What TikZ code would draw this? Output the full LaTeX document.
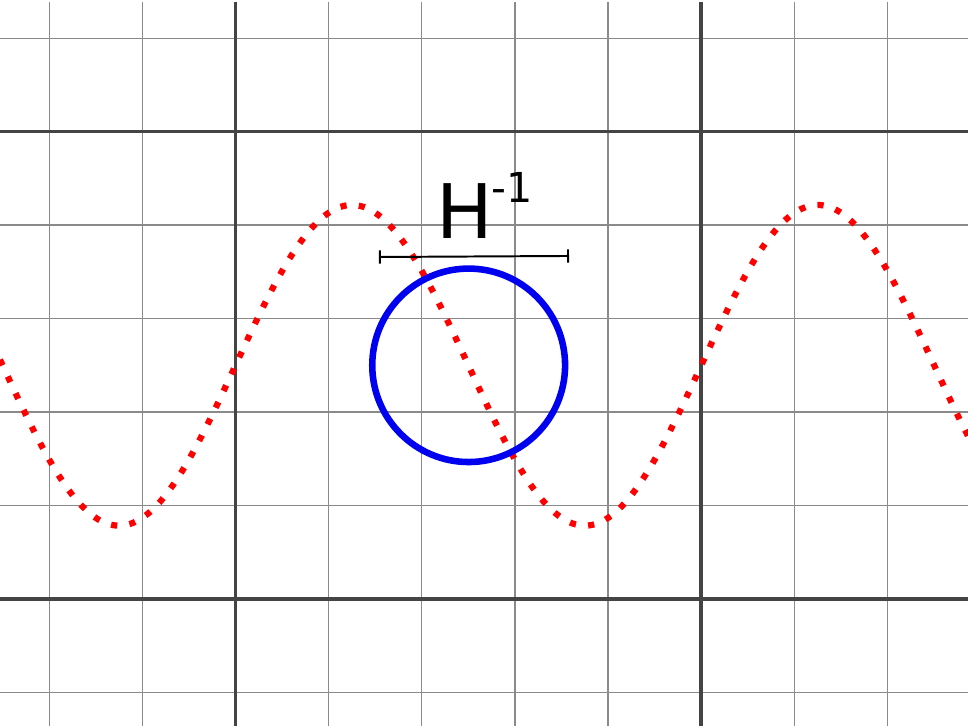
\documentclass[tikz,border=0pt]{standalone}
\usepackage{fontspec}
\setmainfont{DejaVu Sans}
\usepackage{tikz}
\usetikzlibrary{positioning,arrows.meta,calc}
\definecolor{ink}{HTML}{000000}
\definecolor{gridThin}{HTML}{8A8A8A}
\definecolor{gridThick}{HTML}{444444}
\definecolor{sRed}{HTML}{FF0000}
\definecolor{sBlue}{HTML}{0000F0}
\tikzset{
  minor/.style={draw=gridThin, line width=0.4pt},
  major/.style={draw=gridThick, line width=1.1pt},
  wave/.style={draw=sRed, line width=1.9pt, dash pattern=on 1.9pt off 3.75pt},
  ring/.style={draw=sBlue, line width=2pt},
  bar/.style={draw=ink, line width=0.6pt, {Bar[width=4pt]}-{Bar[width=4pt]}},
}

\begin{document}
\begin{tikzpicture}[x=1cm, y=1.0032cm,
  lbl/.style={inner sep=0pt, anchor=base west, text=ink, font=\fontsize{23}{28}\selectfont}]
\useasboundingbox (-2.528,-1.359) rectangle (7.863,6.409);
\foreach \i in {-2,-1,1,2,3,4,6,7} \draw[minor] (\i,-1.359) -- (\i,6.388);
\foreach \j in {-1,1,2,3,4,6} \draw[minor] (-2.528,\j) -- (7.863,\j);
\foreach \i in {0,5} \draw[major] (\i,-1.359) -- (\i,6.388);
\foreach \j in {0,5} \draw[major] (-2.528,\j) -- (7.863,\j);
\draw[wave] plot[domain=-2.528:7.863, samples=240, smooth] (\x, {2.5+1.716*sin(72*\x)});
\coordinate (ctr) at (2.503,2.5);
\draw[ring] (ctr) circle (1.035);
\coordinate (barL) at (1.540,3.659);
\coordinate (barR) at (3.580,3.670);
\draw[bar] (barL) -- (barR);
\node[lbl] (hinv) at (2.152,3.852) {H\kern-0.5pt\raisebox{11pt}{\fontsize{12.6}{15}\selectfont -1}};
\end{tikzpicture}
\end{document}
